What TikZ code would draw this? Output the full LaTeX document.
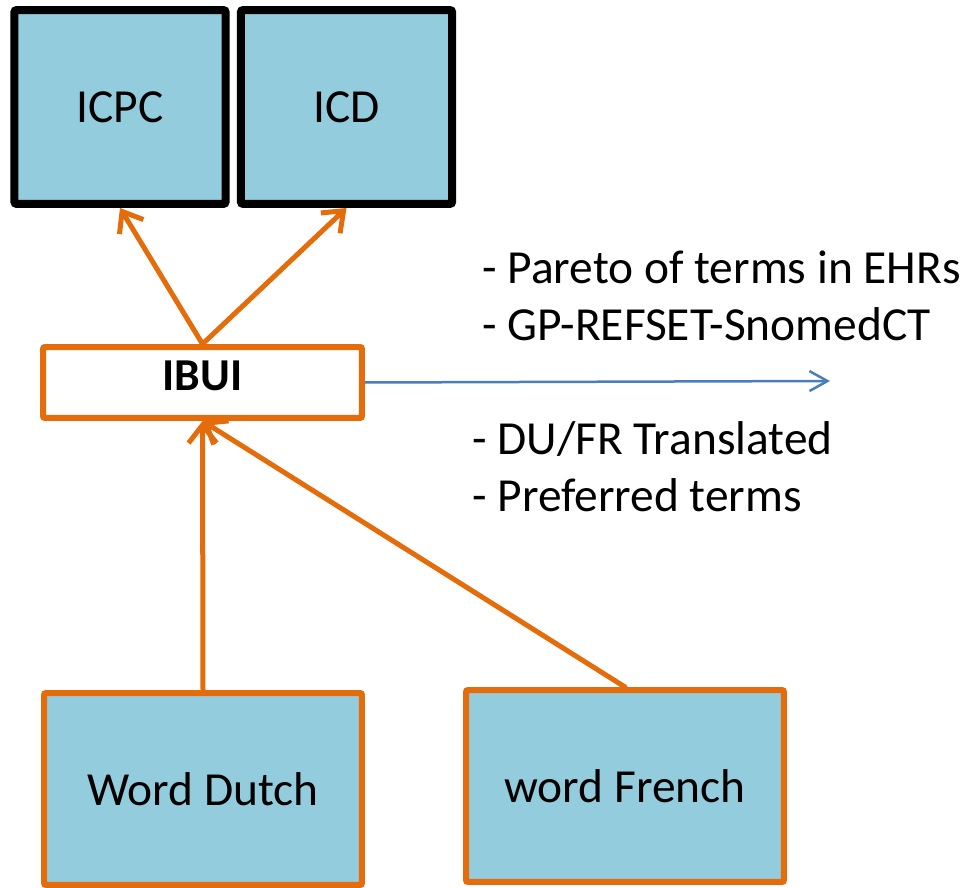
\documentclass[tikz,border=0pt]{standalone}
\usepackage{fontspec}
\setmainfont{Carlito}
\usetikzlibrary{arrows.meta}
\definecolor{boxblue}{HTML}{93CDDD}
\definecolor{ibuiorange}{HTML}{E46C0A}
\definecolor{linkblue}{HTML}{4A7EBB}
\tikzset{
	codebox/.style={draw=black, line width=0.16cm, fill=boxblue, rounded corners=0.05cm,
		minimum width=4.23cm, minimum height=3.88cm, inner sep=0pt, font=\fontsize{27}{32}\selectfont},
	wordbox/.style={draw=ibuiorange, line width=0.12cm, fill=boxblue, rounded corners=0.04cm,
		minimum width=6.36cm, minimum height=3.84cm, inner sep=0pt, font=\fontsize{27}{32}\selectfont},
	ibuibox/.style={draw=ibuiorange, line width=0.12cm, fill=white, rounded corners=0.04cm,
		minimum width=6.38cm, minimum height=1.42cm, inner sep=0pt, text depth=0.26cm,
		font=\fontsize{26}{32}\selectfont\bfseries},
	orangearrow/.style={draw=ibuiorange, line width=0.1cm, line cap=round,
		-{Straight Barb[length=0.36cm,width=0.56cm]}},
	bluearrow/.style={draw=linkblue, line width=0.05cm,
		-{Straight Barb[length=0.36cm,width=0.4cm]}},
	notes/.style={anchor=base west, align=left, inner sep=0pt, font=\fontsize{27}{33}\selectfont}
}
\begin{document}
\begin{tikzpicture}[x=0.02cm, y=-0.02cm]
	%%%%% START %%%%%
	\useasboundingbox (0,0) rectangle (971,888);

	% classifications
	\node[codebox] (icpc) at (120,107) {ICPC};
	\node[codebox] (icd) at (346.5,107) {ICD};

	% interface terminology
	\node[ibuibox] (ibui) at (202.5,382.5) {IBUI};

	% source words
	\node[wordbox] (dutch) at (203,789) {Word Dutch};
	\node[wordbox] (french) at (625,786) {word French};

	\draw[orangearrow] (ibui.north) -- (icpc.south);
	\draw[orangearrow] (ibui.north) -- (icd.south);
	\draw[orangearrow] (dutch.north) -- (ibui.south);
	\draw[orangearrow] (french.north) -- (ibui.south);

	\coordinate (out) at (830,381);
	\draw[bluearrow] (ibui.east) -- (out);

	% the last line sits on the given base
	\node[notes] (refset) at (482,341) {- Pareto of terms in EHRs\\- GP-REFSET-SnomedCT};
	\node[notes] (trans) at (472,512) {- DU/FR Translated\\- Preferred terms};
	%%%%% END %%%%%
\end{tikzpicture}
\end{document}
